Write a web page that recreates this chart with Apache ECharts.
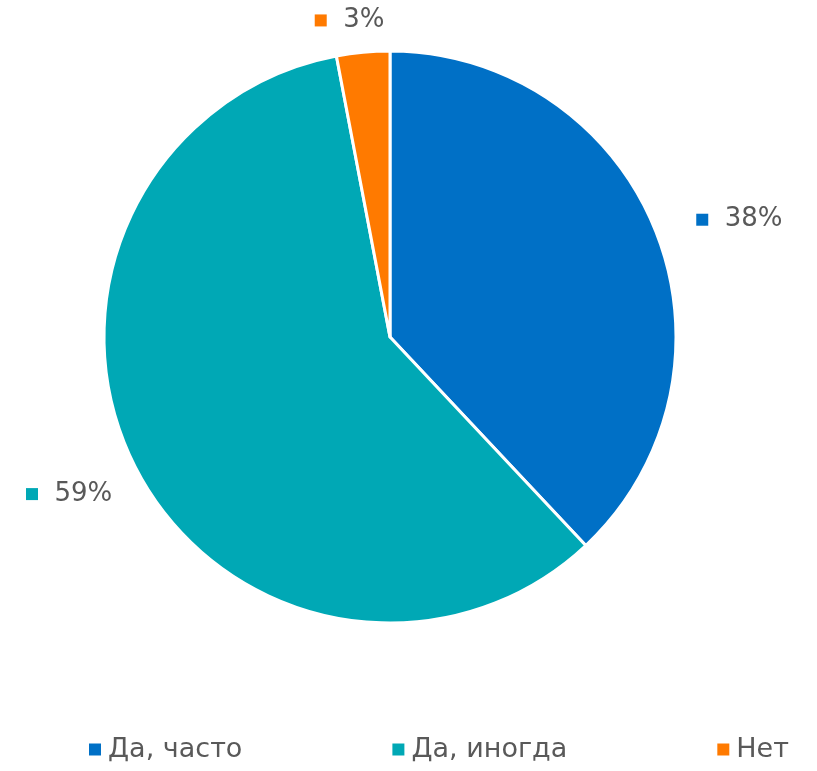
<!DOCTYPE html>
<html><head><meta charset="utf-8">
<script src="https://cdn.jsdelivr.net/npm/echarts@6/dist/echarts.min.js"></script>
<style>html,body{margin:0;padding:0;background:#fff}#c{width:817px;height:771px}</style>
</head><body><div id="c"></div>
<script>
const categories = ['Да, часто', 'Да, иногда', 'Нет'];
const values = [38, 59, 3];
const colors = ['#0070C6', '#00A8B5', '#FF7A00'];
const labelShift = [[0, 2], [16, 10], [30, 6]];

const chart = echarts.init(document.getElementById('c'));
const FONT = '"DejaVu Sans", sans-serif';
chart.setOption({
  animation: false,
  legend: {
    bottom: 3,
    left: 84,
    icon: 'rect',
    itemWidth: 12,
    itemHeight: 12,
    itemGap: 150,
    itemStyle: { borderWidth: 0 },
    textStyle: { fontFamily: FONT, fontSize: 27, color: '#595959', padding: [0, 0, 0, 2] },
    data: categories
  },
  series: [{
    type: 'pie',
    center: [390, 337],
    radius: 286,
    startAngle: 90,
    clockwise: true,
    avoidLabelOverlap: false,
    itemStyle: { borderColor: '#fff', borderWidth: 3 },
    labelLine: { show: false, length: 38, length2: 0 },
    labelLayout: function (p) {
      return { dx: labelShift[p.dataIndex][0], dy: labelShift[p.dataIndex][1] };
    },
    label: {
      show: true,
      position: 'outside',
      formatter: function (p) { return '{m' + p.dataIndex + '|}  ' + p.value + '%'; },
      fontFamily: FONT,
      fontSize: 26,
      color: '#595959',
      rich: {
        m0: { width: 12, height: 12, backgroundColor: colors[0] },
        m1: { width: 12, height: 12, backgroundColor: colors[1] },
        m2: { width: 12, height: 12, backgroundColor: colors[2] }
      }
    },
    data: categories.map((c, i) => ({ name: c, value: values[i], itemStyle: { color: colors[i] } }))
  }]
});
</script></body></html>
